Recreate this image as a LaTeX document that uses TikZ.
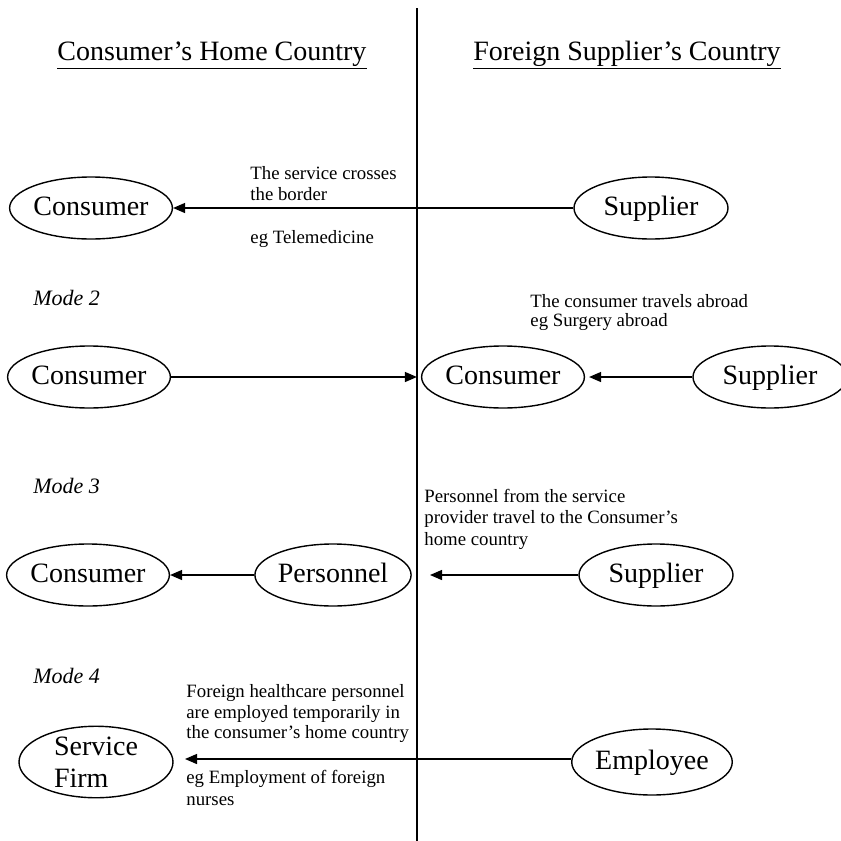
\documentclass[tikz,border=0pt]{standalone}
\usepackage{fontspec}
\setmainfont{Liberation Serif}
\usetikzlibrary{shapes.geometric,arrows.meta}
\tikzset{
  oval/.style={draw,ellipse,line width=0.7pt,inner sep=0pt,minimum width=77pt,minimum height=31pt,text height=9.5pt,text depth=2.5pt,font=\fontsize{14}{16}\selectfont},
  conn/.style={line width=0.7pt,-{Triangle[length=6pt,width=5pt]}},
  small/.style={anchor=base west,inner sep=0pt,font=\fontsize{9.4}{11}\selectfont},
  modelab/.style={anchor=base west,inner sep=0pt,font=\fontsize{11}{13}\selectfont\itshape},
  head/.style={anchor=base,inner sep=0pt,font=\fontsize{14}{16}\selectfont}
}
\begin{document}
\begin{tikzpicture}[x=0.5pt,y=-0.5pt]
\useasboundingbox (0,0) rectangle (841,841);
\clip (0,0) rectangle (841,841);
% border line
\coordinate (ltop) at (417,8);
\coordinate (lbot) at (417,841);
\draw[line width=0.75pt] (ltop) -- (lbot);
% headers
\node[head] (h1) at (212,60) {\underline{Consumer's Home Country}};
\node[head] (h2) at (627,60) {\underline{Foreign Supplier's Country}};
% Mode 1
\node[oval] (c1) at (91,208) {Consumer};
\node[oval] (s1) at (651,208) {Supplier};
\draw[conn] (s1.west) -- (c1.east);
\node[small] (t1a) at (250,179) {The service crosses};
\node[small] (t1b) at (250,200) {the border};
\node[small] (t1c) at (250,243) {eg Telemedicine};
% Mode 2
\node[modelab] (m2) at (33,305) {Mode 2};
\node[oval] (c2l) at (89,377) {Consumer};
\node[oval] (c2r) at (503,377) {Consumer};
\node[oval] (s2) at (770,377) {Supplier};
\draw[conn,shorten >=2pt] (c2l.east) -- (c2r.west);
\draw[conn,shorten >=2pt] (s2.west) -- (c2r.east);
\node[small] (t2a) at (530,307) {The consumer travels abroad};
\node[small] (t2b) at (530,326) {eg Surgery abroad};
% Mode 3
\node[modelab] (m3) at (33,493) {Mode 3};
\node[oval] (c3) at (88,575) {Consumer};
\node[oval] (p3) at (333,575) {Personnel};
\node[oval] (s3) at (656,575) {Supplier};
\coordinate (e3) at (430,575);
\draw[conn] (p3.west) -- (c3.east);
\draw[conn] (s3.west) -- (e3);
\node[small] (t3a) at (424,502) {Personnel from the service};
\node[small] (t3b) at (424,523) {provider travel to the Consumer's};
\node[small] (t3c) at (424,545) {home country};
% Mode 4
\node[modelab] (m4) at (33,683) {Mode 4};
\node[oval,minimum height=33pt,text height=,text depth=,align=left,font=\fontsize{14}{16}\selectfont] (f4) at (96,762) {Service\\Firm};
\node[oval,minimum height=33pt] (e4) at (652,762) {Employee};
\coordinate (a4) at (185,759);
\draw[conn] (e4.west|-a4) -- (a4);
\node[small] (t4a) at (186,697) {Foreign healthcare personnel};
\node[small] (t4b) at (186,718) {are employed temporarily in};
\node[small] (t4c) at (186,738) {the consumer's home country};
\node[small] (t4d) at (186,783) {eg Employment of foreign};
\node[small] (t4e) at (186,805) {nurses};
\end{tikzpicture}
\end{document}
